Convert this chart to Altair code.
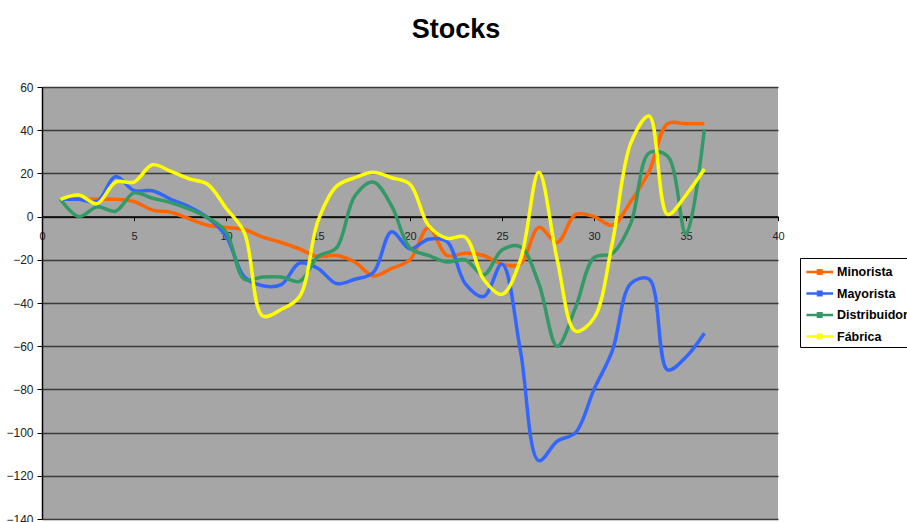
import altair as alt
import pandas as pd

x_vals = list(range(1, 37))
minorista = [8, 8, 8, 8, 7, 3, 2, -1, -4, -5, -6, -9.5, -12, -15, -18.5, -18, -21, -27.5, -24, -20,
             -5, -18, -17, -18, -22, -22, -5, -12, 1, 0, -4, 7, 21, 43, 43, 43]
mayorista = [8, 8, 7, 18.5, 12, 12, 8, 4.5, -0.5, -9, -28, -32, -31.5, -21.5, -24, -31, -29, -26, -7, -15,
             -10.5, -11.5, -31, -37, -22, -62, -113, -104, -100, -80, -62, -31, -29, -71, -65, -54]
distribuidor = [8, 0, 4.5, 2.5, 11, 8.5, 6.5, 3.5, -0.5, -7, -29, -28, -28, -30, -18.5, -14.5, 9.5, 16, 5, -14.5,
                -18, -21, -20, -27, -15.5, -14, -31, -60, -42, -19, -17, -3, 29.5, 28, -8, 40.5]
fabrica = [8, 10, 6, 16, 16, 24, 21, 17.5, 15, 4, -7.5, -46, -43, -37, -2, 14, 18, 20.5, 18, 15,
           -4, -10, -9.5, -29, -36, -20, 20.5, -20, -53, -47, -12, 34, 46.5, 1, 10, 22]

series_names = ["Minorista", "Mayorista", "Distribuidor", "Fábrica"]
series_colors = ["#FF6600", "#3366FF", "#339966", "#FFFF00"]
x_ticks = [0, 5, 10, 15, 20, 25, 30, 35, 40]
y_ticks = [-140, -120, -100, -80, -60, -40, -20, 0, 20, 40, 60]

rows = []
for name, vals in zip(series_names, [minorista, mayorista, distribuidor, fabrica]):
    for xv, yv in zip(x_vals, vals):
        rows.append({"x": xv, "value": yv, "serie": name})
df = pd.DataFrame(rows)

W, H = 736, 432
FONT = "Liberation Sans"

color = alt.Color(
    "serie:N",
    scale=alt.Scale(domain=series_names, range=series_colors),
    legend=alt.Legend(
        title=None,
        orient="none",
        legendX=758,
        legendY=171,
        strokeColor="black",
        fillColor="white",
        padding=3,
        labelFont=FONT,
        labelFontSize=12.5,
        labelFontWeight="bold",
        labelColor="black",
        labelOffset=12,
        symbolType="M-0.8,0H2M0.42,-0.18H0.78V0.18H0.42Z",
        symbolSize=361,
        symbolStrokeWidth=2.5,
        rowPadding=3.5,
    ),
)

x_enc = alt.X(
    "x:Q",
    scale=alt.Scale(domain=[0, 40], nice=False),
    axis=alt.Axis(
        values=x_ticks,
        title=None,
        grid=False,
        offset=-(H * 0.7),
        domainColor="black",
        domainWidth=1.5,
        tickColor="black",
        tickSize=4,
        labelFont=FONT,
        labelFontSize=11,
        labelColor="#222222",
        labelPadding=10,
        labelFlush=False,
    ),
)
y_enc = alt.Y(
    "value:Q",
    scale=alt.Scale(domain=[-140, 60], nice=False),
    axis=alt.Axis(
        values=y_ticks,
        title=None,
        grid=True,
        gridColor="#3a3a3a",
        gridWidth=1.5,
        domainColor="black",
        domainWidth=1.5,
        tickColor="black",
        tickSize=5,
        labelFont=FONT,
        labelFontSize=12,
        labelColor="#222222",
        labelPadding=4,
    ),
)

layers = []
for name in series_names:
    layers.append(
        alt.Chart(df)
        .transform_filter(alt.datum.serie == name)
        .mark_line(interpolate="catmull-rom", strokeWidth=3.5)
        .encode(x=x_enc, y=y_enc, color=color)
    )

chart = (
    alt.layer(*layers)
    .properties(
        width=W,
        height=H,
        title=alt.TitleParams(
            "Stocks",
            font=FONT,
            fontSize=27,
            fontWeight="bold",
            color="black",
            anchor="middle",
            dx=46,
            offset=37,
        ),
        autosize=alt.AutoSizeParams(type="none"),
        padding={"left": 42, "top": 87, "right": 129, "bottom": 3},
        background="white",
    )
    .configure_view(fill="#A6A6A6", strokeWidth=0)
)

chart.save("out.html", embed_options={"renderer": "svg", "actions": False})
